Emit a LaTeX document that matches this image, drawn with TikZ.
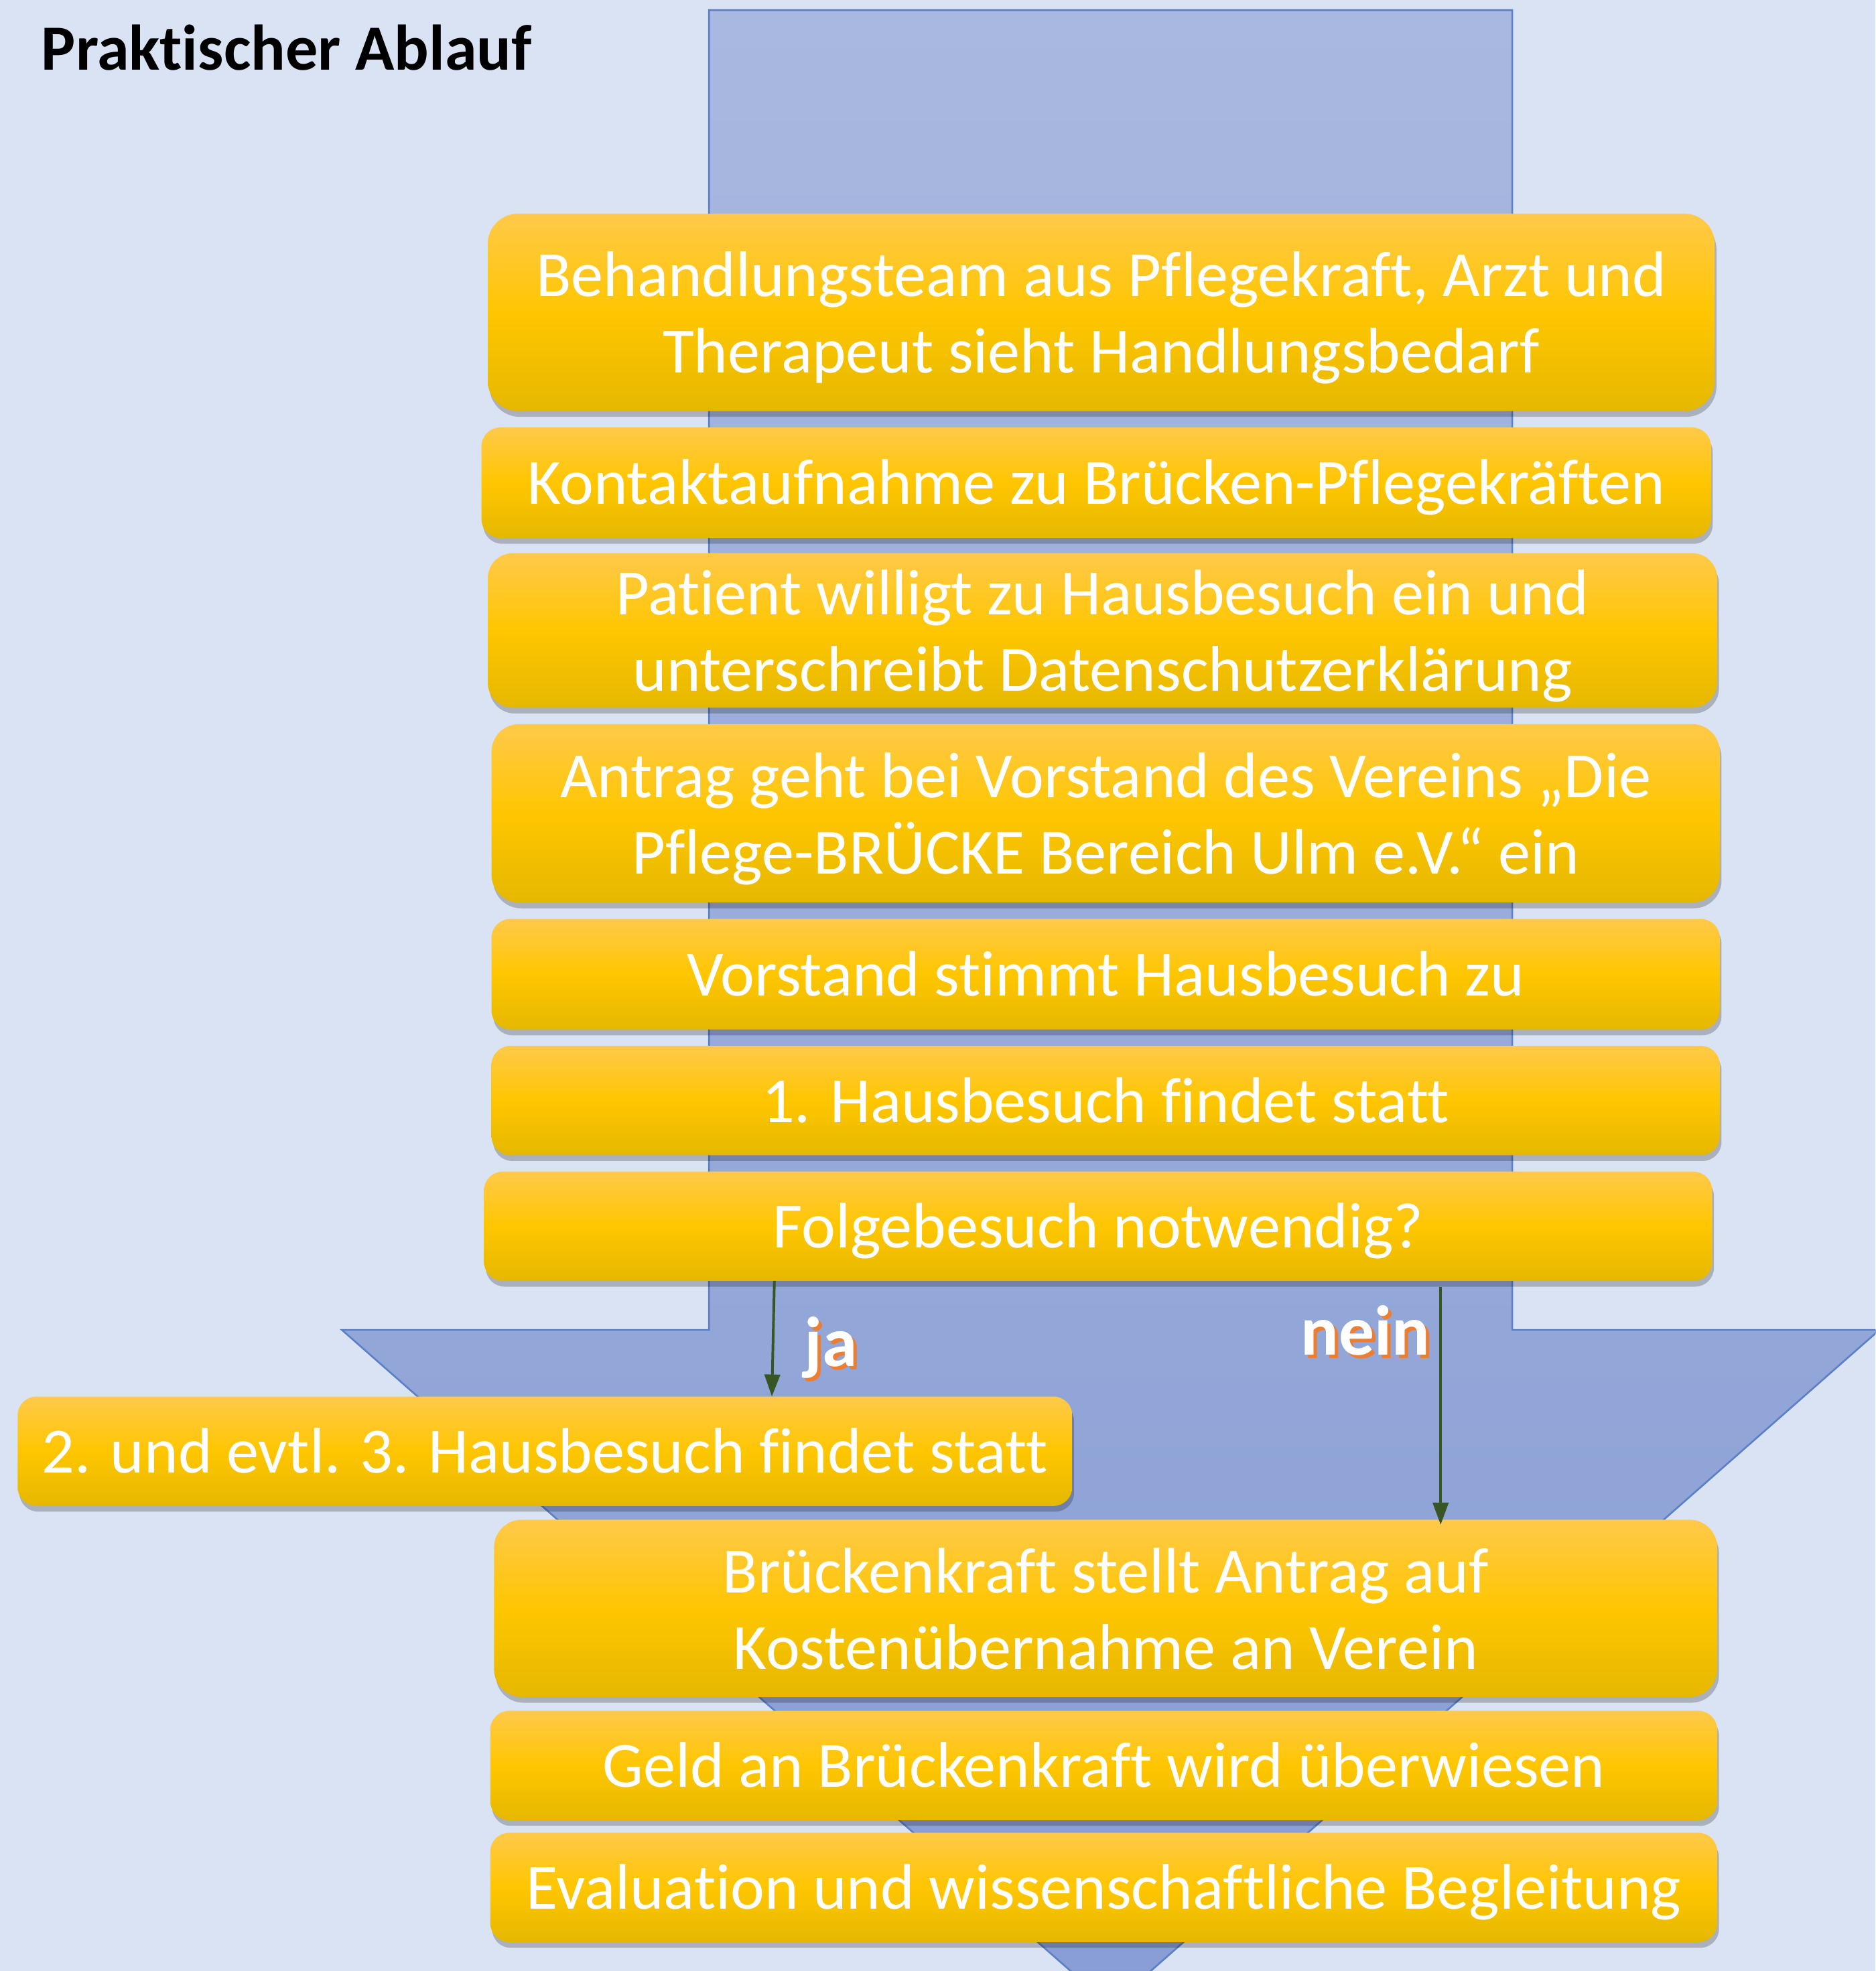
\documentclass[tikz,border=0pt]{standalone}
\usepackage{fontspec}
\setmainfont{Carlito}[Ligatures=NoCommon]
\usetikzlibrary{arrows.meta,shadows}
\definecolor{slidebg}{HTML}{DAE3F3}
\definecolor{arrowtop}{HTML}{A9B8E0}
\definecolor{arrowbot}{HTML}{879DD4}
\definecolor{arrowline}{HTML}{5B80C8}
\definecolor{boxtop}{HTML}{FFC94A}
\definecolor{boxmid}{HTML}{FFC600}
\definecolor{boxbot}{HTML}{E5B800}
\definecolor{decision}{HTML}{375623}
\definecolor{glow}{HTML}{ED7D31}
\newcommand{\glowtext}[1]{\makebox[0pt][l]{\hspace{0.7pt}\raisebox{-0.7pt}{\textcolor{glow}{#1}}}#1}
\begin{document}
\begin{tikzpicture}[x=0.1mm,y=-0.1mm,inner sep=0pt,outer sep=0pt,
stepbox/.style={rectangle,rounded corners=#1,top color=boxtop,bottom color=boxbot,middle color=boxmid,
  text=white,align=center,font=\fontsize{14.6}{17.3}\selectfont,
  text height=13.3pt,text depth=3.5pt,
  drop shadow={shadow xshift=0.4pt,shadow yshift=-1.3pt,fill=black,opacity=0.22}},
stepbox/.default=1.5mm,
twoline/.style={text height=,text depth=0pt},
choice/.style={text=white,font=\bfseries\fontsize{16}{19}\selectfont},
>={Triangle[length=5pt,width=3.5pt]}]
\path[use as bounding box] (0,0) rectangle (1492,1568);
\fill[slidebg] (0,0) rectangle (1492,1568);
\clip (0,0) rectangle (1492,1568);
% big background arrow
\draw[arrowline,line width=0.4pt,top color=arrowtop,bottom color=arrowbot]
  (564,8) -- (1203,8) -- (1203,1058) -- (1495,1058) -- (883.5,1596) -- (272,1058) -- (564,1058) -- cycle;
\draw (33,55.5) node[anchor=base west,font=\bfseries\fontsize{14.6}{17}\selectfont] (title) {Praktischer Ablauf};
% steps
\draw (876,248.5) node[stepbox=2.4mm,twoline,minimum width=97.6mm,minimum height=15.7mm] (team) {Behandlungsteam aus Pflegekraft, Arzt und\\Therapeut sieht Handlungsbedarf};
\draw (872,384) node[stepbox,minimum width=97.8mm,minimum height=8.8mm] (kontakt) {Kontaktaufnahme zu Brücken-Pflegekräften};
\draw (877,501.5) node[stepbox=2mm,twoline,minimum width=97.8mm,minimum height=12.3mm] (patient) {Patient willigt zu Hausbesuch ein und\\unterschreibt Datenschutzerklärung};
\draw (879.5,647) node[stepbox=2.2mm,twoline,minimum width=97.7mm,minimum height=14.2mm] (antrag) {Antrag geht bei Vorstand des Vereins „Die\\Pflege-BRÜCKE Bereich Ulm e.V.“ ein};
\draw (879.5,775) node[stepbox,minimum width=97.7mm,minimum height=8.8mm] (vorstand) {Vorstand stimmt Hausbesuch zu};
\draw (879.5,875.5) node[stepbox,minimum width=97.7mm,minimum height=8.7mm] (besuch1) {1. Hausbesuch findet statt};
\draw (873.5,975.5) node[stepbox,minimum width=97.7mm,minimum height=8.7mm] (folge) {Folgebesuch notwendig?};
\draw (433.5,1154.5) node[stepbox,minimum width=83.9mm,minimum height=8.7mm] (besuch23) {2. und evtl. 3. Hausbesuch findet statt};
\draw (879.5,1279.5) node[stepbox=2.2mm,twoline,minimum width=97.3mm,minimum height=14.1mm] (kosten) {Brückenkraft stellt Antrag auf\\Kostenübernahme an Verein};
\draw (878,1404.5) node[stepbox,minimum width=97.6mm,minimum height=8.7mm] (geld) {Geld an Brückenkraft wird überwiesen};
\draw (878,1501.5) node[stepbox,minimum width=97.6mm,minimum height=8.7mm] (eval) {Evaluation und wissenschaftliche Begleitung};
% decision
\draw[->,decision,line width=0.6pt] ([xshift=23.1mm]folge.south west) -- ([xshift=60mm]besuch23.north west);
\draw[->,decision,line width=0.6pt] ([xshift=76.1mm,yshift=-0.5mm]folge.south west) -- ([xshift=75.3mm,yshift=-0.4mm]kosten.north west);
\draw (640,1087) node[anchor=base west,choice] (ja) {\glowtext{ja}};
\draw (1035,1078) node[anchor=base west,choice] (nein) {\glowtext{nein}};
\end{tikzpicture}
\end{document}
